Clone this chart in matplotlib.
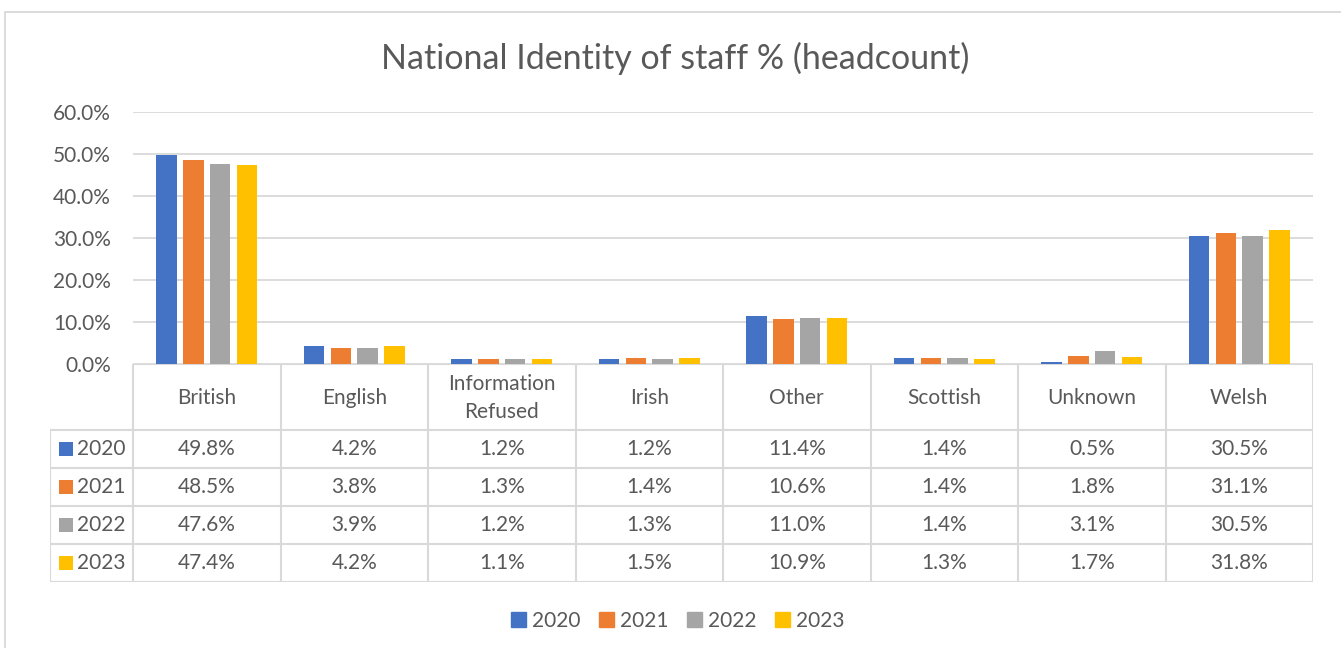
import numpy as np
import matplotlib.pyplot as plt
from matplotlib.patches import Rectangle

# Data
categories = ["British", "English", "Information\nRefused", "Irish",
              "Other", "Scottish", "Unknown", "Welsh"]
years = ["2020", "2021", "2022", "2023"]
v2020 = [49.8, 4.2, 1.2, 1.2, 11.4, 1.4, 0.5, 30.5]
v2021 = [48.5, 3.8, 1.3, 1.4, 10.6, 1.4, 1.8, 31.1]
v2022 = [47.6, 3.9, 1.2, 1.3, 11.0, 1.4, 3.1, 30.5]
v2023 = [47.4, 4.2, 1.1, 1.5, 10.9, 1.3, 1.7, 31.8]
series = [v2020, v2021, v2022, v2023]
colors = ["#4472C4", "#ED7D31", "#A5A5A5", "#FFC000"]
yticks = [0, 10, 20, 30, 40, 50, 60]

plt.rcParams["font.family"] = ["Lato", "DejaVu Sans"]
TXT = "#595959"
GRID = "#D9D9D9"
FS = 15

W, H = 1341, 648
fig = plt.figure(figsize=(W / 100, H / 100), dpi=100)

def px(x0, y0, x1, y1):
    return [x0 / W, 1 - y1 / H, (x1 - x0) / W, (y1 - y0) / H]

# outer chart border
fig.add_artist(Rectangle((5 / W, -0.1), 1.2, 1 - 12 / H + 0.1, transform=fig.transFigure,
                         fill=False, edgecolor=GRID, lw=1.3))

fig.text(675 / W, 1 - 58 / H, "National Identity of staff % (headcount)",
         ha="center", va="center", fontsize=24.5, color=TXT)

# bar chart
ax = fig.add_axes(px(133, 112, 1313, 364))
n = len(categories)
x = np.arange(n)
step = 0.182
bw = 0.14
for i, (vals, c) in enumerate(zip(series, colors)):
    ax.bar(x + (i - 1.5) * step, vals, width=bw, color=c, zorder=3)
ax.set_xlim(-0.5, n - 0.5)
ax.set_ylim(0, 60)
ax.set_yticks(yticks)
ax.set_yticklabels([f"{t:.1f}%" for t in yticks], fontsize=FS, color=TXT)
ax.tick_params(axis="y", length=0, pad=16)
ax.set_xticks([])
ax.grid(axis="y", color=GRID, lw=1.3, zorder=0)
for s in ax.spines.values():
    s.set_visible(False)

# data table
hdr = 66
rh = 38
leg_w = 83 / 147.5
tab = fig.add_axes(px(50, 364, 1313, 364 + hdr + 4 * rh))
tab.set_xlim(-0.5 - leg_w, n - 0.5)
tab.set_ylim(hdr + 4 * rh, 0)
tab.axis("off")
lk = dict(color=GRID, lw=1.5, solid_capstyle="projecting")
# horizontal lines
tab.plot([-0.5, n - 0.5], [0, 0], **lk)
for r in range(5):
    tab.plot([-0.5 - leg_w, n - 0.5], [hdr + r * rh] * 2, **lk)
# vertical lines
tab.plot([-0.5 - leg_w] * 2, [hdr, hdr + 4 * rh], **lk)
for k in range(n + 1):
    tab.plot([k - 0.5] * 2, [0, hdr + 4 * rh], **lk)

for k, cat in enumerate(categories):
    tab.text(k, hdr / 2 + 1, cat, ha="center", va="center", fontsize=FS,
             color=TXT, linespacing=1.55)
for r, (yr, vals, c) in enumerate(zip(years, series, colors)):
    yc = hdr + r * rh + rh / 2
    for k, v in enumerate(vals):
        tab.text(k, yc, f"{v:.1f}%", ha="center", va="center", fontsize=FS, color=TXT)
    tab.add_patch(Rectangle((-0.5 - leg_w + 9 / 147.5, yc - 7), 14 / 147.5, 14,
                            color=c, lw=0))
    tab.text(-0.5 - leg_w + 27 / 147.5, yc, yr, ha="left", va="center",
             fontsize=FS, color=TXT)

# legend
handles = [Rectangle((0, 0), 1, 1, color=c) for c in colors]
fig.legend(handles, years, loc="center", bbox_to_anchor=(678 / W, 1 - 621 / H),
           ncol=4, frameon=False, fontsize=FS, handlelength=0.7, handleheight=0.7,
           handletextpad=0.3, columnspacing=0.9, labelcolor=TXT)

fig.savefig("out.png", dpi=100)
